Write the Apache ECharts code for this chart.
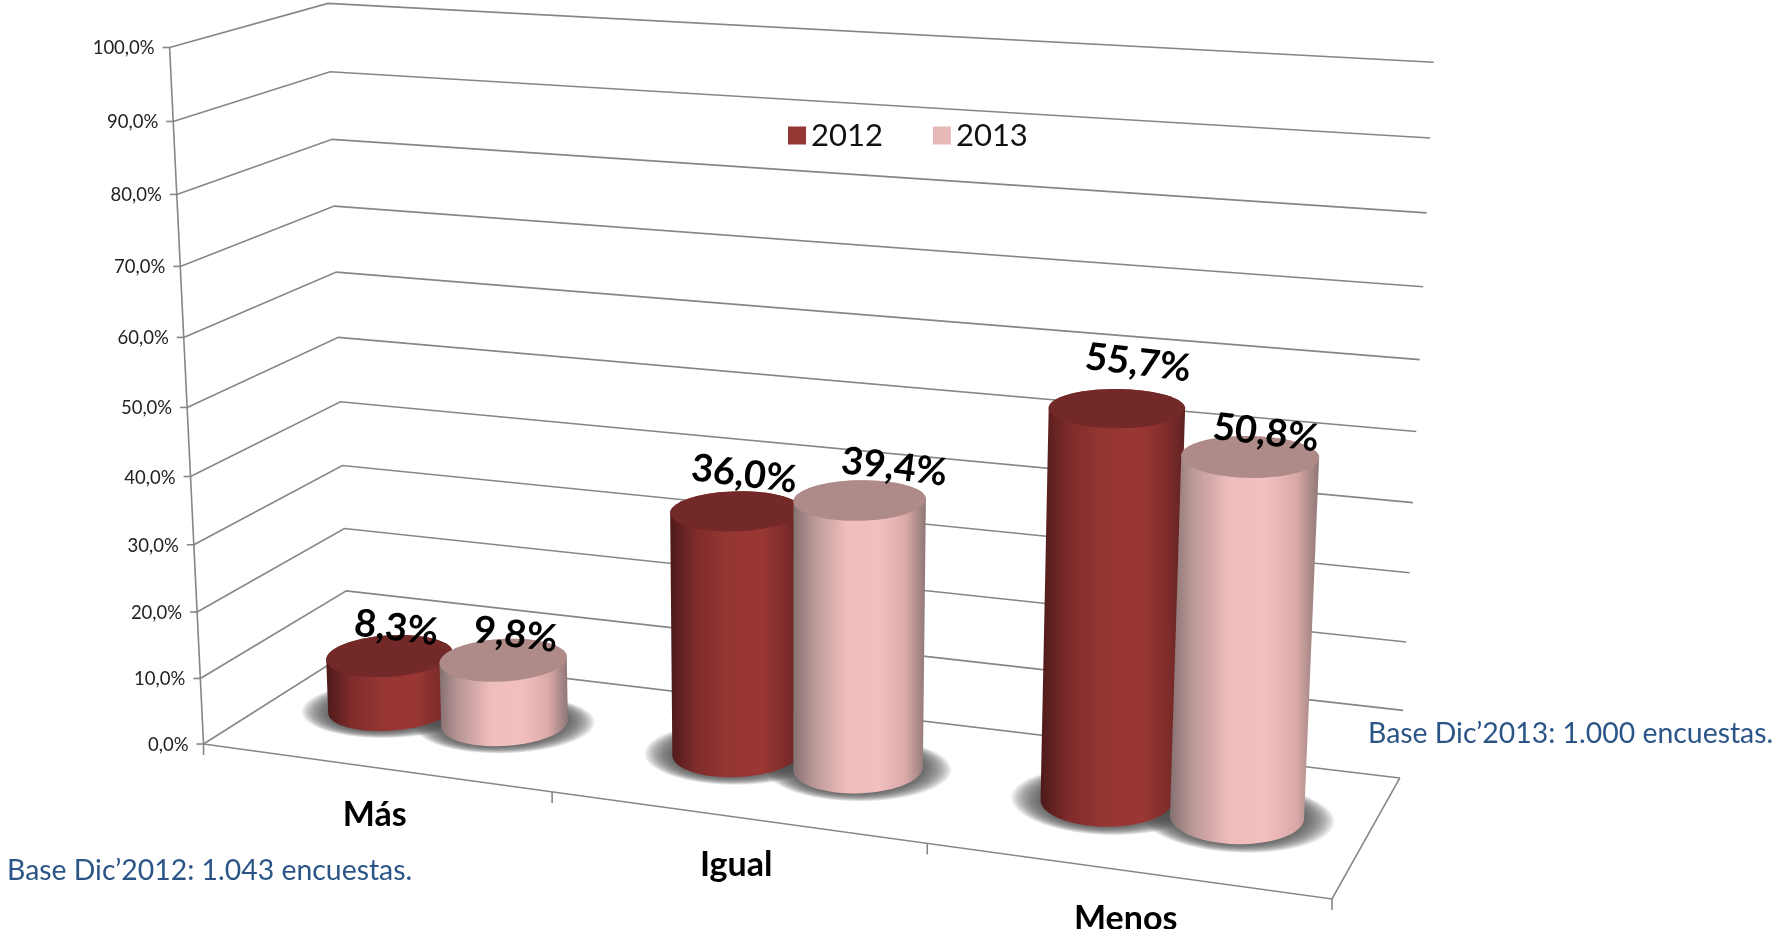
<!DOCTYPE html>
<html>
<head>
<meta charset="utf-8">
<title>Más, Igual, Menos</title>
<script src="https://cdn.jsdelivr.net/npm/echarts@6/dist/echarts.min.js"></script>
<style>
  html, body { margin: 0; padding: 0; background: #fff; }
  #main { width: 1773px; height: 929px; }
</style>
</head>
<body>
<div id="main"></div>
<script>
const categories = ['Más', 'Igual', 'Menos']
const values2012 = [8.3, 36.0, 55.7]
const values2013 = [9.8, 39.4, 50.8]
const labels2012 = ['8,3%', '36,0%', '55,7%']
const labels2013 = ['9,8%', '39,4%', '50,8%']
const yTicks = [0, 10, 20, 30, 40, 50, 60, 70, 80, 90, 100]
const yTickLabels = ['0,0%', '10,0%', '20,0%', '30,0%', '40,0%', '50,0%', '60,0%', '70,0%', '80,0%', '90,0%', '100,0%']
const baseNotes = ['Base Dic’2012: 1.043 encuestas.', 'Base Dic’2013: 1.000 encuestas.']

const FONT = 'Lato, "Open Sans", sans-serif'
const LINE = '#868686'

// esquinas de la caja 3D en pantalla: [u][v][h]
const S = 1773 / 1568
const BOX = {
  '000': [180, 658], '100': [1178, 795], '010': [308, 577], '110': [1238, 688],
  '001': [150, 42], '101': [1210, 111], '011': [290, 3], '111': [1268, 55],
}
const PERSP = { u: -0.106, v: 0.15, h: -0.065 }

// perspectiva: interpolacion homogenea entre las esquinas
const project = (u, v, h) => {
  let x = 0
  let y = 0
  let w = 0
  for (const key in BOX) {
    const [cu, cv, ch] = key.split('').map(Number)
    const blend = (cu ? u : 1 - u) * (cv ? v : 1 - v) * (ch ? h : 1 - h)
    const weight = blend * (1 + PERSP.u * cu + PERSP.v * cv + PERSP.h * ch)
    x += weight * BOX[key][0] * S
    y += weight * BOX[key][1] * S
    w += weight
  }
  return [x / w, y / w]
}

// pasa de datos a coordenadas de la caja con las escalas de los ejes
const toBox = (params, api, cat, value) => {
  const [px, py] = api.coord([cat, value])
  const g = params.coordSys
  return [(px - g.x) / g.width, (g.y + g.height - py) / g.height]
}

const hull = (points) => {
  const pts = points.slice().sort((a, b) => a[0] - b[0] || a[1] - b[1])
  const cross = (o, a, b) => (a[0] - o[0]) * (b[1] - o[1]) - (a[1] - o[1]) * (b[0] - o[0])
  const half = (list) => {
    const out = []
    list.forEach((p) => {
      while (out.length > 1 && cross(out[out.length - 2], out[out.length - 1], p) <= 0) out.pop()
      out.push(p)
    })
    out.pop()
    return out
  }
  return half(pts).concat(half(pts.slice().reverse()))
}

const CYL = { depth: 0.505, ru: 0.055, rv: 0.22, gap: 0.056 }

const rim = (u, h, scaleU, scaleV) => {
  const points = []
  for (let i = 0; i < 72; i++) {
    const t = (i / 72) * Math.PI * 2
    points.push(project(u + CYL.ru * scaleU * Math.cos(t), CYL.depth + CYL.rv * scaleV * Math.sin(t), h))
  }
  return points
}

const STYLES = [
  {
    cap: '#722928',
    stops: [[0, '#4e1a1a'], [0.2, '#7f2c2b'], [0.45, '#963634'], [0.7, '#9a3735'], [0.9, '#7a2b29'], [1, '#5e2120']],
    side: -1,
    nudge: [[-23, -8], [-17, -18], [2, -27]],
  },
  {
    cap: '#ae8a88',
    stops: [[0, '#857170'], [0.15, '#b99796'], [0.4, '#f0bdbd'], [0.65, '#f2bfbf'], [0.85, '#d9a9a8'], [1, '#8d7776']],
    side: 1,
    nudge: [[-16, -5], [11, -14], [-1, -4]],
  },
]

// sombra difusa: capas translucidas sobre el suelo
const renderShadow = (style) => (params, api) => {
  const [u] = toBox(params, api, api.value(0), 0)
  const uc = u + style.side * CYL.gap
  const children = []
  const layers = 20
  for (let i = 0; i < layers; i++) {
    const k = 1 - i / (layers - 1)
    children.push({
      type: 'polygon',
      silent: true,
      shape: { points: rim(uc, 0, 1 + 0.46 * k, 1 + 0.28 * k) },
      style: { fill: 'rgba(80,80,80,0.08)' },
    })
  }
  return { type: 'group', children }
}

const renderCylinder = (style) => (params, api) => {
  const [u, h] = toBox(params, api, api.value(0), api.value(1))
  const uc = u + style.side * CYL.gap
  const bottom = rim(uc, 0, 1, 1)
  const top = rim(uc, h, 1, 1)
  const fill = new echarts.graphic.LinearGradient(0, 0, 1, 0, style.stops.map(([offset, color]) => ({ offset, color })))
  return {
    type: 'group',
    children: [
      { type: 'polygon', shape: { points: hull(bottom.concat(top)) }, style: { fill } },
      { type: 'polygon', shape: { points: top }, style: { fill: style.cap } },
    ],
  }
}

const renderLabel = (style, labels) => (params, api) => {
  const cat = api.value(0)
  const [u, h] = toBox(params, api, cat, api.value(1))
  const [x, y] = project(u + style.side * CYL.gap, CYL.depth + CYL.rv, h)
  const [dx, dy] = style.nudge[cat]
  return {
    type: 'text',
    x: x + dx,
    y: y + dy,
    rotation: -0.12,
    style: {
      text: labels[cat],
      fontFamily: FONT,
      fontWeight: 'bold',
      fontSize: 38,
      fill: '#000',
      align: 'center',
      verticalAlign: 'middle',
    },
  }
}

// paredes, suelo y marcas del eje de valores
const renderWall = (params, api) => {
  const value = api.value(1)
  const [, h] = toBox(params, api, 0, value)
  const front = project(0, 0, h)
  const stroke = { stroke: LINE, lineWidth: 1.6, fill: null }
  const children = [
    { type: 'polyline', shape: { points: [front, project(0, 1, h), project(1, 1, h)] }, style: stroke },
    { type: 'line', shape: { x1: front[0] - 7, y1: front[1], x2: front[0], y2: front[1] }, style: stroke },
    {
      type: 'text',
      x: front[0] - 15,
      y: front[1] + 1,
      style: {
        text: yTickLabels[params.dataIndex],
        fontFamily: FONT,
        fontSize: 18.5,
        fill: '#222',
        align: 'right',
        verticalAlign: 'middle',
      },
    },
  ]
  if (value === 0) {
    children.push(
      { type: 'polyline', shape: { points: [project(0, 0, 0), project(0, 0, 1)] }, style: stroke },
      { type: 'polyline', shape: { points: [project(0, 0, 0), project(1, 0, 0), project(1, 1, 0)] }, style: stroke }
    )
    ;[0, 1 / 3, 2 / 3, 1].forEach((u) => {
      const p = project(u, 0, 0)
      children.push({ type: 'line', shape: { x1: p[0], y1: p[1], x2: p[0], y2: p[1] + 11 }, style: stroke })
    })
  }
  return { type: 'group', children }
}

const renderCategory = (params, api) => {
  const cat = api.value(0)
  const [u] = toBox(params, api, cat, 0)
  const [x, y] = project(u, 0, 0)
  return {
    type: 'text',
    x,
    y: y + 48,
    style: {
      text: categories[cat],
      fontFamily: FONT,
      fontWeight: 'bold',
      fontSize: 34,
      fill: '#000',
      align: 'center',
      verticalAlign: 'middle',
    },
  }
}

const customSeries = (name, z, data, renderItem, color) => ({
  type: 'custom',
  name,
  z,
  data,
  renderItem,
  coordinateSystem: 'cartesian2d',
  encode: { x: 0, y: 1 },
  silent: true,
  clip: false,
  itemStyle: color ? { color } : undefined,
})

const pairs = (list) => list.map((v, i) => [i, v])

const chart = echarts.init(document.getElementById('main'))
chart.setOption({
  animation: false,
  backgroundColor: '#fff',
  grid: { left: 0, right: 0, top: 0, bottom: 0 },
  xAxis: { type: 'category', data: categories, show: false },
  yAxis: { type: 'value', min: 0, max: 100, interval: 10, show: false },
  legend: {
    data: ['2012', '2013'],
    left: 783,
    top: 115,
    icon: 'rect',
    itemWidth: 18,
    itemHeight: 18,
    itemGap: 50,
    selectedMode: false,
    textStyle: { fontFamily: FONT, fontSize: 31, color: '#111' },
  },
  graphic: [
    {
      type: 'text',
      left: 7,
      top: 857,
      style: { text: baseNotes[0], fontFamily: FONT, fontSize: 28.4, fill: '#2c5587' },
    },
    {
      type: 'text',
      left: 1368,
      top: 720,
      style: { text: baseNotes[1], fontFamily: FONT, fontSize: 28.4, fill: '#2c5587' },
    },
  ],
  series: [
    customSeries('ejes', 1, yTicks.map((v) => [0, v]), renderWall),
    customSeries('categorias', 1, pairs(categories.map(() => 0)), renderCategory),
    customSeries('sombra 2012', 2, pairs(values2012), renderShadow(STYLES[0])),
    customSeries('sombra 2013', 2, pairs(values2013), renderShadow(STYLES[1])),
    customSeries('2012', 3, pairs(values2012), renderCylinder(STYLES[0]), '#953735'),
    customSeries('2013', 4, pairs(values2013), renderCylinder(STYLES[1]), '#e6b9b8'),
    customSeries('etiquetas 2012', 5, pairs(values2012), renderLabel(STYLES[0], labels2012)),
    customSeries('etiquetas 2013', 5, pairs(values2013), renderLabel(STYLES[1], labels2013)),
  ],
})
</script>
</body>
</html>
